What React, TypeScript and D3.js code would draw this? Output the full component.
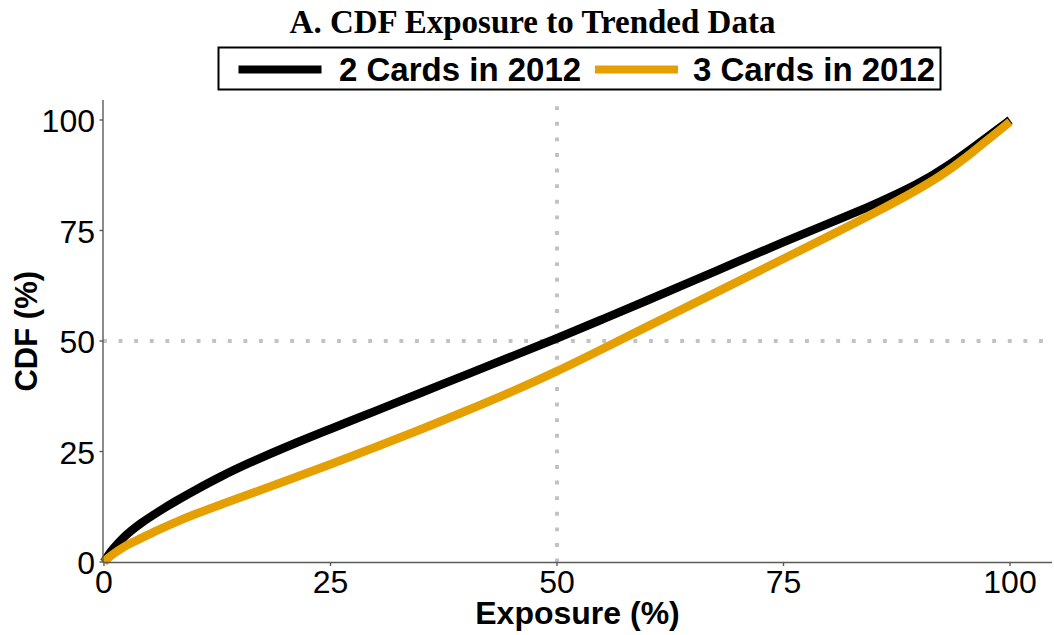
import React from "react";
import * as d3 from "d3";

const exposure = [0, 0.5, 1, 2, 3, 4, 6, 8, 10, 13, 16, 20, 25, 30, 35, 40, 45, 50, 55, 60, 65, 70, 75, 80, 85, 90, 93, 96, 98, 100];
const cdfTwoCards = [0, 1.7, 3.0, 5.3, 7.1, 8.7, 11.4, 13.9, 16.2, 19.5, 22.4, 26.0, 30.1, 34.2, 38.3, 42.4, 46.5, 50.6, 54.9, 59.2, 63.6, 68.0, 72.4, 76.6, 80.8, 85.6, 89.4, 93.9, 96.9, 100];
const cdfThreeCards = [0, 1.0, 1.8, 3.2, 4.3, 5.3, 7.3, 9.1, 10.8, 13.1, 15.3, 18.3, 22.1, 26.0, 30.0, 34.2, 38.5, 43.1, 48.2, 53.3, 58.4, 63.5, 68.6, 73.7, 78.9, 84.4, 88.2, 92.9, 96.3, 99.6];
const tickValues = [0, 25, 50, 75, 100];
const seriesNames = ["2 Cards in 2012", "3 Cards in 2012"];
const seriesColors = ["#000000", "#E69F00"];
const titleText = "A. CDF Exposure to Trended Data";
const xTitle = "Exposure (%)";
const yTitle = "CDF (%)";

const W = 1054;
const H = 635;

export default function App() {
  const x = d3.scaleLinear().domain([0, 100]).range([104, 1010]);
  const y = d3.scaleLinear().domain([0, 100]).range([562, 120]);
  const panelLeft = 103;
  const panelRight = 1052;
  const panelTop = 100;
  const panelBottom = 562.5;

  const line = d3
    .line<[number, number]>()
    .x((d) => x(d[0]))
    .y((d) => y(d[1]))
    .curve(d3.curveBasis);

  const series = [cdfTwoCards, cdfThreeCards].map((vals) =>
    exposure.map((e, i) => [e, vals[i]] as [number, number])
  );

  const sans = "'Liberation Sans', Arial, Helvetica, sans-serif";
  const serif = "'Liberation Serif', 'Times New Roman', serif";
  const dotted = { stroke: "#c2c2c2", strokeWidth: 3.9, strokeDasharray: "3.9 11.7" };
  const axisColor = "#5a5a5a";

  return (
    <svg width={W} height={H} style={{ position: "absolute", left: 0, top: 0, background: "#fff" }}>
      <rect x={0} y={0} width={W} height={H} fill="#fff" />
      {/* reference lines */}
      <line x1={panelLeft} x2={panelRight} y1={y(50)} y2={y(50)} {...dotted} />
      <line x1={x(50)} x2={x(50)} y1={panelBottom} y2={panelTop} {...dotted} />

      {/* curves */}
      {series.map((s, i) => (
        <path key={i} d={line(s) || ""} fill="none" stroke={seriesColors[i]} strokeWidth={8.5} strokeLinecap="butt" strokeLinejoin="round" />
      ))}

      {/* axes */}
      <line x1={panelLeft} x2={panelRight} y1={panelBottom} y2={panelBottom} stroke={axisColor} strokeWidth={1.4} />
      <line x1={panelLeft} x2={panelLeft} y1={panelBottom} y2={panelTop} stroke={axisColor} strokeWidth={1.4} />
      {tickValues.map((t) => (
        <g key={"x" + t}>
          <line x1={x(t)} x2={x(t)} y1={panelBottom} y2={panelBottom + 3.5} stroke={axisColor} strokeWidth={1.4} />
          <text x={x(t)} y={593} textAnchor="middle" fontFamily={sans} fontSize={32} fill="#000">
            {t}
          </text>
        </g>
      ))}
      {tickValues.map((t) => (
        <g key={"y" + t}>
          <line x1={panelLeft - 3.5} x2={panelLeft} y1={y(t)} y2={y(t)} stroke={axisColor} strokeWidth={1.4} />
          <text x={95} y={y(t) + 12} textAnchor="end" fontFamily={sans} fontSize={32} fill="#000">
            {t}
          </text>
        </g>
      ))}

      {/* axis titles */}
      <text x={(panelLeft + panelRight) / 2} y={624} textAnchor="middle" fontFamily={sans} fontWeight="bold" fontSize={32} fill="#000">
        {xTitle}
      </text>
      <text
        transform={`translate(36.5, ${(panelTop + panelBottom) / 2}) rotate(-90)`}
        textAnchor="middle"
        fontFamily={sans}
        fontWeight="bold"
        fontSize={31}
        fill="#000"
      >
        {yTitle}
      </text>

      {/* title */}
      <text x={532.5} y={33} textAnchor="middle" fontFamily={serif} fontWeight="bold" fontSize={33} fill="#000">
        {titleText}
      </text>

      {/* legend */}
      <rect x={218.5} y={47.5} width={722} height={42} fill="#fff" stroke="#000" strokeWidth={2} />
      {seriesNames.map((name, i) => {
        const lx = i === 0 ? 238.5 : 595;
        const tx = i === 0 ? 339 : 693;
        return (
          <g key={name}>
            <line x1={lx} x2={lx + 83} y1={69.5} y2={69.5} stroke={seriesColors[i]} strokeWidth={8} />
            <text x={tx} y={81} fontFamily={sans} fontWeight="bold" fontSize={33} fill="#000">
              {name}
            </text>
          </g>
        );
      })}
    </svg>
  );
}
